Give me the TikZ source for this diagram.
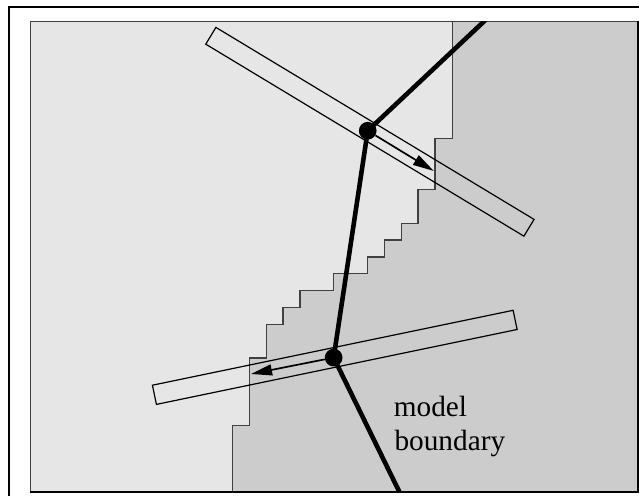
\documentclass[tikz,border=0pt]{standalone}
\usepackage{fontspec}
\setmainfont{Liberation Serif}
\usetikzlibrary{arrows.meta}
\definecolor{lightfill}{HTML}{E6E6E6}
\definecolor{darkfill}{HTML}{CCCCCC}
\definecolor{edgegray}{HTML}{404040}
\tikzset{
  slab/.style={draw=black, line width=1.2pt, inner sep=0pt, outer sep=0pt, minimum height=19.6pt},
  dot/.style={circle, fill=black, inner sep=0pt, minimum size=17.7pt},
  raypath/.style={line width=4.6pt, line join=round},
  dirarrow/.style={line width=1.7pt, -{Triangle[length=21pt,width=11pt]}},
  lbl/.style={inner sep=0pt, font=\fontsize{29.3}{33}\selectfont, anchor=base west},
  stair/.style={draw=edgegray, line width=1.3pt}
}
\begin{document}
\begin{tikzpicture}[x=1.0111pt,y=-1.0102pt]
\useasboundingbox (0,0) rectangle (632,491);
% background regions
\fill[lightfill] (30,21) rectangle (632,488);
\fill[darkfill] (447.3,21) -- (447.3,137) -- (430.3,137) -- (430.3,187.7) -- (413.5,187.7) -- (413.5,221) -- (396.8,221) -- (396.8,237.7) -- (380,237.7) -- (380,254.3) -- (363.3,254.3) -- (363.3,271) -- (330,271) -- (330,287.7) -- (296.7,287.7) -- (296.7,304.3) -- (280,304.3) -- (280,321) -- (263.3,321) -- (263.3,354.3) -- (246.7,354.3) -- (246.7,421) -- (230,421) -- (230,488) -- (632,488) -- (632,21) -- cycle;
\draw[stair] (447.3,21) -- (447.3,137) -- (430.3,137) -- (430.3,187.7) -- (413.5,187.7) -- (413.5,221) -- (396.8,221) -- (396.8,237.7) -- (380,237.7) -- (380,254.3) -- (363.3,254.3) -- (363.3,271) -- (330,271) -- (330,287.7) -- (296.7,287.7) -- (296.7,304.3) -- (280,304.3) -- (280,321) -- (263.3,321) -- (263.3,354.3) -- (246.7,354.3) -- (246.7,421) -- (230,421) -- (230,488);
\draw[edgegray, line width=1.4pt] (30,487.5) -- (30,21) -- (631,21);
\draw[black, line width=2pt] (30,487.3) -- (630.7,487.3) -- (630.7,21);
% slabs
\node[slab, rotate=-31.11, minimum width=371.6pt] (slabA) at (365.85,130.45) {};
\node[slab, rotate=11.73, minimum width=368.4pt] (slabB) at (331.1,353.75) {};
% ray path
\node[dot] (n1) at (363.7,129.4) {};
\node[dot] (n2) at (330,354) {};
\coordinate (rtop) at (480.5,19.5);
\coordinate (rbot) at (396,489);
\begin{scope}
\clip (30,21) rectangle (631,488);
\draw[raypath] (rtop) -- (n1.center) -- (n2.center) -- (rbot);
\end{scope}
% direction arrows
\coordinate (t1) at (429,169.2);
\coordinate (t2) at (248.3,370.2);
\draw[dirarrow] (n1) -- (t1);
\draw[dirarrow] (n2) -- (t2);
% label
\node[lbl] (l1) at (389.3,412.7) {model};
\node[lbl] (l2) at (390,446) {boundary};
% outer frame (left and top edges visible)
\draw[black, line width=2pt] (9,491) -- (9,7) -- (632,7);
\end{tikzpicture}
\end{document}
